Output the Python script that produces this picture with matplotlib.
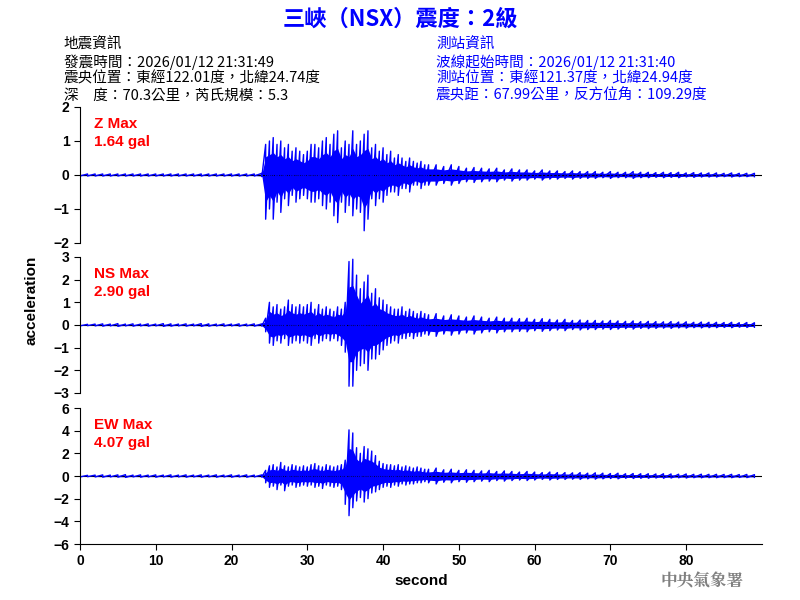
import matplotlib
matplotlib.use("Agg")
import matplotlib.pyplot as plt
import numpy as np

plt.rcParams["font.family"] = ["Noto Sans CJK TC", "DejaVu Sans"]

# envelope peaks: 24.0 .. 45.5 s every 0.5 s
t_main = np.arange(24.0, 46.0, 0.5)
z_up = [0.05, 0.9, 1.0, 1.1, 0.9, 1.0, 0.8, 0.9, 0.7, 0.8, 0.7, 0.6, 0.7, 0.9, 0.9, 0.8, 1.0, 1.1, 0.9, 1.2, 1.3,
        0.8, 1.0, 0.9, 1.3, 0.9, 1.0, 1.2, 1.3, 0.8, 0.9, 0.7, 0.8, 0.6, 0.7, 0.5, 0.6, 0.5, 0.4, 0.5, 0.4, 0.35,
        0.4, 0.3]
z_lo = [-0.05, -1.3, -1.0, -1.3, -0.8, -1.1, -0.7, -0.9, -0.6, -0.8, -0.7, -0.6, -0.7, -0.8, -0.8, -0.7, -0.9,
        -1.0, -0.8, -1.2, -1.4, -0.8, -1.1, -0.9, -1.2, -1.0, -1.1, -1.64, -1.3, -0.7, -0.9, -0.7, -0.8, -0.6,
        -0.5, -0.5, -0.6, -0.4, -0.4, -0.5, -0.3, -0.3, -0.4, -0.3]
ns_up = [0.05, 0.3, 1.0, 0.8, 0.9, 0.7, 0.8, 1.1, 0.9, 0.8, 0.9, 0.8, 0.9, 1.0, 0.7, 0.9, 0.7, 0.8, 0.7, 0.6, 0.8,
         0.7, 1.0, 2.8, 2.9, 2.2, 1.6, 1.9, 2.2, 1.4, 1.6, 1.2, 1.1, 0.9, 0.8, 0.7, 0.7, 0.8, 0.6, 0.7, 0.6, 0.5,
         0.6, 0.5]
ns_lo = [-0.05, -0.3, -0.8, -0.9, -0.7, -0.8, -0.6, -0.9, -0.8, -0.7, -0.8, -0.7, -0.8, -0.9, -0.6, -0.8, -0.7,
         -0.6, -0.7, -0.6, -0.7, -0.9, -1.2, -2.7, -2.7, -2.0, -1.8, -1.7, -2.0, -1.5, -1.5, -1.3, -1.1, -0.9, -0.8,
         -0.7, -0.8, -0.6, -0.6, -0.5, -0.6, -0.5, -0.5, -0.4]
ew_up = [0.1, 0.5, 0.9, 1.0, 0.8, 1.2, 0.9, 0.8, 1.0, 0.9, 0.8, 0.9, 0.8, 1.0, 1.1, 0.9, 0.8, 1.0, 0.9, 0.8, 0.9,
         1.0, 1.4, 4.07, 3.8, 2.5, 2.0, 2.6, 2.4, 2.2, 1.8, 1.3, 1.1, 1.0, 1.0, 0.9, 1.0, 0.8, 0.9, 0.8, 0.7, 0.8,
         0.7, 0.6]
ew_lo = [-0.1, -0.6, -1.0, -0.9, -1.2, -0.8, -1.3, -0.9, -0.8, -1.0, -0.9, -0.8, -0.9, -0.8, -1.0, -0.9, -1.1,
         -0.8, -0.9, -1.0, -0.9, -1.2, -2.5, -3.5, -2.8, -2.2, -1.9, -2.3, -2.0, -1.5, -1.4, -1.2, -1.0, -0.9, -1.0,
         -0.8, -0.9, -0.7, -0.8, -0.7, -0.7, -0.6, -0.6, -0.5]

# coda, 46 .. 89 s every 1 s (half-amplitude, symmetric)
t_tail = np.arange(46.0, 90.0, 1.0)
z_tail = [0.3, 0.3, 0.25, 0.3, 0.25, 0.2, 0.22, 0.2, 0.18, 0.2, 0.15, 0.18, 0.15, 0.15, 0.12, 0.15, 0.12, 0.12,
          0.1, 0.12, 0.1, 0.1, 0.1, 0.08, 0.1, 0.08, 0.08, 0.1, 0.08, 0.08, 0.07, 0.08, 0.07, 0.08, 0.06, 0.07, 0.06,
          0.06, 0.06, 0.05, 0.06, 0.05, 0.05, 0.05]
ns_tail = [0.45, 0.5, 0.4, 0.45, 0.4, 0.35, 0.4, 0.35, 0.3, 0.35, 0.3, 0.3, 0.28, 0.3, 0.25, 0.28, 0.25, 0.22,
           0.25, 0.2, 0.22, 0.2, 0.2, 0.18, 0.2, 0.18, 0.16, 0.18, 0.15, 0.16, 0.15, 0.14, 0.15, 0.13, 0.14, 0.12,
           0.13, 0.12, 0.12, 0.11, 0.12, 0.1, 0.11, 0.1]
ew_tail = [0.6, 0.7, 0.55, 0.6, 0.5, 0.55, 0.5, 0.45, 0.5, 0.4, 0.45, 0.4, 0.35, 0.4, 0.35, 0.3, 0.35, 0.3,
           0.3, 0.28, 0.3, 0.25, 0.28, 0.25, 0.22, 0.25, 0.2, 0.22, 0.2, 0.2, 0.18, 0.2, 0.18, 0.16, 0.18, 0.15, 0.16,
           0.15, 0.15, 0.14, 0.15, 0.13, 0.14, 0.12]

# pre-event noise, 0 .. 23 s every 1 s
t_pre = np.arange(0.0, 24.0, 1.0)
z_pre = [0.03] * 24
ns_pre = [0.04, 0.03, 0.04, 0.05, 0.04, 0.06, 0.04, 0.05, 0.04, 0.05, 0.04, 0.06, 0.05, 0.04, 0.05, 0.04, 0.06,
          0.05, 0.04, 0.05, 0.04, 0.05, 0.04, 0.05]
ew_pre = [0.08, 0.06, 0.08, 0.1, 0.08, 0.1, 0.12, 0.08, 0.1, 0.08, 0.1, 0.08, 0.1, 0.08, 0.1, 0.08, 0.1, 0.08,
          0.1, 0.08, 0.1, 0.08, 0.1, 0.08]

panels = [
    ("Z Max", "1.64 gal", 2, 1, z_pre, z_up, z_lo, z_tail),
    ("NS Max", "2.90 gal", 3, 1, ns_pre, ns_up, ns_lo, ns_tail),
    ("EW Max", "4.07 gal", 6, 2, ew_pre, ew_up, ew_lo, ew_tail),
]

left_lines = ["地震資訊", "發震時間：2026/01/12 21:31:49", "震央位置：東經122.01度，北緯24.74度",
              "深　度：70.3公里，芮氏規模：5.3"]
right_lines = ["測站資訊", "波線起始時間：2026/01/12 21:31:40", "測站位置：東經121.37度，北緯24.94度",
               "震央距：67.99公里，反方位角：109.29度"]

latin = ["Liberation Sans", "DejaVu Sans"]
fig = plt.figure(figsize=(8, 6), dpi=100)
bottoms = [0.595, 0.345, 0.0933]
axes = []
for (name, peak, lim, step, pre, up, lo, tail), b in zip(panels, bottoms):
    ax = fig.add_axes([0.1, b, 0.8525, 0.2267])
    t = np.concatenate([t_pre, t_main, t_tail])
    hi = np.concatenate([pre, up, tail])
    low = np.concatenate([-np.asarray(pre), lo, -np.asarray(tail)])
    ax.axhline(0, color="black", lw=0.8)
    ax.fill_between(t, low * 0.6, hi * 0.6, color="blue", lw=0)
    zz_t = np.repeat(t, 2)
    zz_y = np.column_stack([hi, low]).ravel()
    ax.plot(zz_t, zz_y, color="blue", lw=1.0)
    ax.set_xlim(0, 90)
    ax.set_ylim(-lim, lim)
    ax.set_yticks(np.arange(-lim, lim + step, step))
    ax.set_xticks(np.arange(0, 90, 10))
    for s in ["top", "right"]:
        ax.spines[s].set_visible(False)
    ax.tick_params(labelsize=10, direction="out", length=4)
    for lab in ax.get_xticklabels() + ax.get_yticklabels():
        lab.set_family(latin)
        lab.set_fontweight("bold")
    ax.text(0.02, 0.93, f"{name}\n{peak}", transform=ax.transAxes, color="red", fontsize=11,
            va="top", ha="left", family=latin, fontweight="bold", linespacing=1.4)
    axes.append(ax)

for ax in axes[:2]:
    ax.spines["bottom"].set_visible(False)
    ax.tick_params(axis="x", bottom=False, labelbottom=False)
axes[2].set_xlabel("second", fontsize=11, fontweight="bold", family=latin)
fig.text(0.04, 0.5, "acceleration", rotation=90, va="center", ha="center", fontsize=11, fontweight="bold",
         family=latin)

fig.text(0.5, 0.968, "三峽（NSX）震度：2級", ha="center", va="center", color="blue", fontsize=16, fontweight="bold")
for i, line in enumerate(left_lines):
    fig.text(0.08, 0.925 - i * 0.028, line, fontsize=10.5, color="black", va="center")
for i, line in enumerate(right_lines):
    fig.text(0.545, 0.925 - i * 0.028, line, fontsize=10.5, color="blue", va="center")
fig.text(0.93, 0.032, "中央氣象署", ha="right", va="center", color="gray", fontsize=12, fontweight="bold",
         family=["Noto Serif CJK TC", "Noto Sans CJK TC", "DejaVu Sans"])

fig.savefig("out.png", dpi=100)
